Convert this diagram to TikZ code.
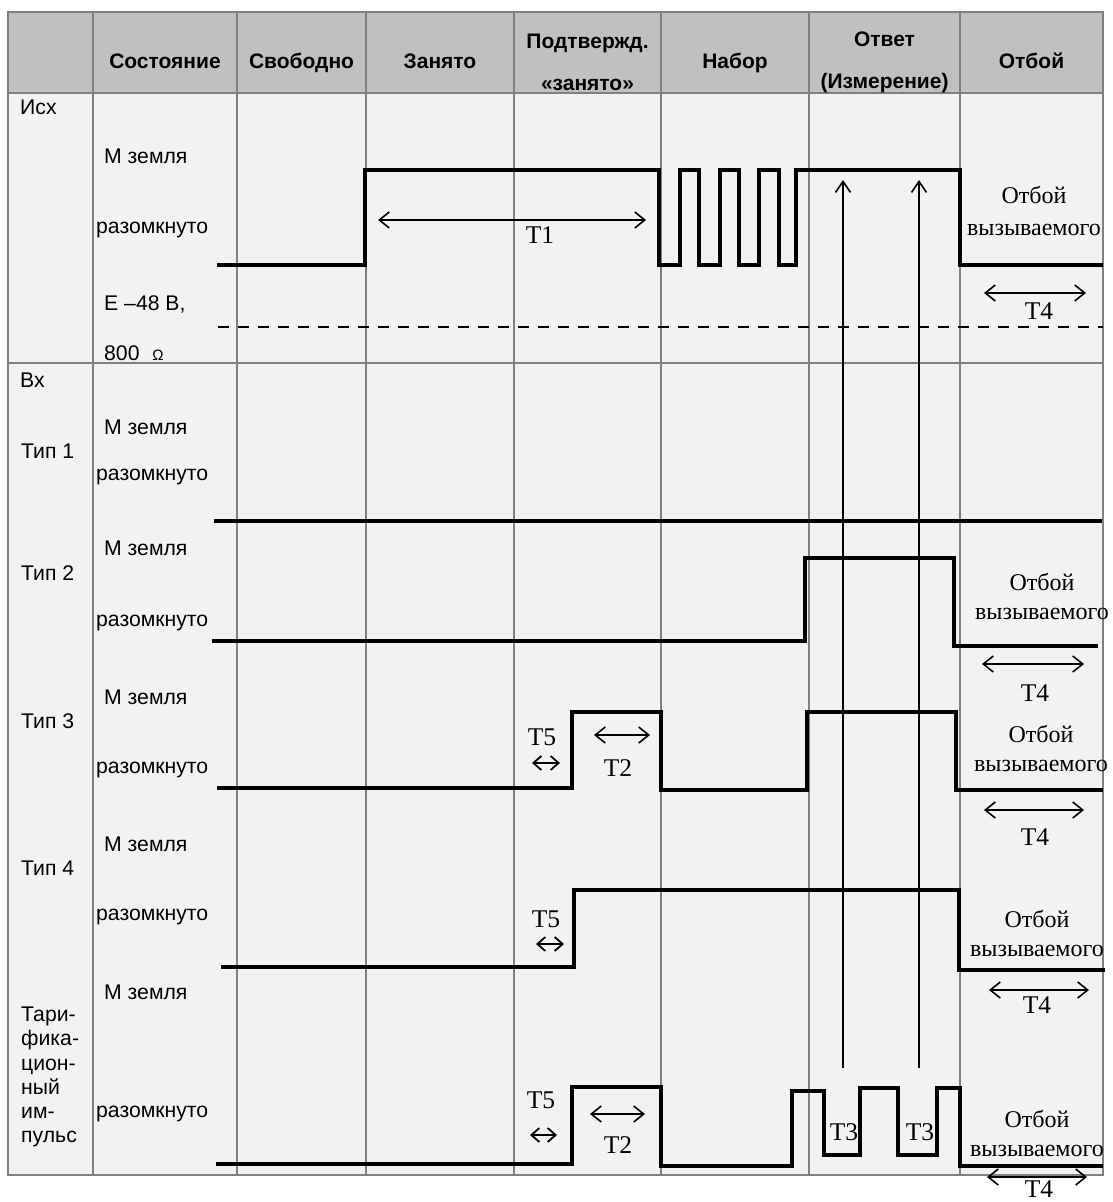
\documentclass[tikz,border=0pt]{standalone}
\usepackage{fontspec}
\setmainfont{Liberation Serif}
\newfontfamily\sansf{Liberation Sans}
\usetikzlibrary{arrows.meta}
\newcommand\lblfont{\sansf\fontsize{21.2}{24.2}\selectfont}
\newcommand\hdrfont{\sansf\bfseries\fontsize{21}{42}\selectfont}
\newcommand\serfont{\fontsize{24}{29}\selectfont}
\newcommand\tfont{\fontsize{25.5}{29}\selectfont}
\definecolor{hdrgray}{HTML}{C0C0C0}
\definecolor{bodygray}{HTML}{F2F2F2}
\definecolor{gridgray}{HTML}{808080}
\begin{document}
\begin{tikzpicture}[x=1pt,y=-1pt,
  gridline/.style={draw=gridgray,line width=2pt},
  sig/.style={line width=4pt,line join=miter,line cap=butt},
  dimarrow/.style={line width=1.6pt,{Straight Barb[length=10pt,width=16pt]}-{Straight Barb[length=10pt,width=16pt]}},
  tinyarrow/.style={line width=1.8pt,{Straight Barb[length=8pt,width=14pt]}-{Straight Barb[length=8pt,width=14pt]}},
  uparrow/.style={line width=1.6pt,-{Straight Barb[length=11pt,width=15pt]}},
  hdr/.style={font=\hdrfont,align=center,inner sep=0pt},
  hdrone/.style={font=\hdrfont,inner sep=0pt,anchor=base},
  lbl/.style={font=\lblfont,anchor=west,inner sep=0pt,align=left},
  tlbl/.style={font=\tfont,inner sep=0pt},
  otb/.style={font=\serfont,align=center,inner sep=0pt},
]
\useasboundingbox (0,0) rectangle (1112,1202);
% backgrounds
\fill[hdrgray] (8,12) rectangle (1103,93);
\fill[bodygray] (8,93) rectangle (1103,1175);
% grid
\foreach \gx in {93,237,366,514,661,809,960}
  \draw[gridline] (\gx,12) -- (\gx,1176);
\draw[gridline] (8,93) -- (1103,93);
\draw[gridline] (8,363) -- (1103,363);
\draw[gridline] (8,12) rectangle (1103,1175);

% header
\node[hdrone] (hS) at (165,68.5) {Состояние};
\node[hdrone] (hF) at (301.5,68.5) {Свободно};
\node[hdrone] (hZ) at (440,68.5) {Занято};
\node[hdr] (hP) at (587.5,62) {Подтвержд.\\«занято»};
\node[hdrone] (hN) at (735,68.5) {Набор};
\node[hdr] (hO) at (884.5,62) {Ответ\\(Измерение)};
\node[hdrone] (hB) at (1031.5,68.5) {Отбой};

% left labels
\node[lbl] (isx) at (20,107) {Исх};
\node[lbl] (m0) at (104,156) {М земля};
\node[lbl] (r0) at (96,230) {разомкнуто};
\node[lbl] (e48) at (104,304) {Е –48 В,};
\node[lbl] (ohm) at (104,353) {800\hspace{0.6em}{\fontsize{15}{15}\selectfont Ω}};
\node[lbl] (vx) at (20,380) {Вх};
\node[lbl] (t1) at (21,451) {Тип 1};
\node[lbl] (m1) at (104,427) {М земля};
\node[lbl] (r1) at (96,477) {разомкнуто};
\node[lbl] (t2) at (21,573) {Тип 2};
\node[lbl] (m2) at (104,548) {М земля};
\node[lbl] (r2) at (96,623) {разомкнуто};
\node[lbl] (t3) at (21,721) {Тип 3};
\node[lbl] (m3) at (104,697) {М земля};
\node[lbl] (r3) at (96,770) {разомкнуто};
\node[lbl] (t4) at (21,868) {Тип 4};
\node[lbl] (m4) at (104,844) {М земля};
\node[lbl] (r4) at (96,917) {разомкнуто};
\node[lbl] (t5) at (21,1077) {Тари-\\фика-\\цион-\\ный\\им-\\пульс};
\node[lbl] (m5) at (104,992) {М земля};
\node[lbl] (r5) at (96,1114) {разомкнуто};

% signals
\draw[sig] (217,265) -- (365,265) -- (365,170) -- (659,170) -- (659,265) -- (680,265) -- (680,170)
  -- (699,170) -- (699,265) -- (720,265) -- (720,170) -- (739,170) -- (739,265) -- (759,265)
  -- (759,170) -- (779,170) -- (779,265) -- (796,265) -- (796,170) -- (960,170) -- (960,265) -- (1103,265);
\draw[line width=2.5pt,dash pattern=on 11pt off 9pt] (218,327) -- (1103,327);
\draw[sig] (214,521) -- (1102,521);
\draw[sig] (212,641) -- (805,641) -- (805,558) -- (954,558) -- (954,646) -- (1098,646);
\draw[sig] (217,788) -- (572,788) -- (572,712) -- (661,712) -- (661,790) -- (807,790) -- (807,712)
  -- (956,712) -- (956,790) -- (1103,790);
\draw[sig] (221,967) -- (574,967) -- (574,890) -- (959,890) -- (959,970) -- (1105,970);
\draw[sig] (216,1164) -- (572,1164) -- (572,1087) -- (661,1087) -- (661,1166) -- (792,1166) -- (792,1091)
  -- (824,1091) -- (824,1155) -- (860,1155) -- (860,1088) -- (898,1088) -- (898,1155) -- (937,1155)
  -- (937,1088) -- (960,1088) -- (960,1166) -- (1103,1166);

% measurement arrows
\coordinate (a1b) at (843,1068); \coordinate (a1t) at (843,180);
\coordinate (a2b) at (919,1068); \coordinate (a2t) at (919,180);
\draw[uparrow] (a1b) -- (a1t);
\draw[uparrow] (a2b) -- (a2t);

% time intervals
\draw[dimarrow] (378,220) -- (646,220);
\node[tlbl] (T1) at (540,235) {T1};
\draw[dimarrow] (984,293) -- (1086,293);
\node[tlbl] (T4a) at (1039,311) {T4};
\draw[dimarrow] (982,664) -- (1084,664);
\node[tlbl] (T4b) at (1035,693) {T4};
\draw[dimarrow] (984,810) -- (1084,810);
\node[tlbl] (T4c) at (1035,837) {T4};
\draw[dimarrow] (989,990) -- (1089,990);
\node[tlbl] (T4d) at (1037,1005) {T4};
\draw[dimarrow] (987,1177) -- (1087,1177);
\node[tlbl] (T4e) at (1039,1189) {T4};
\draw[dimarrow] (594,735) -- (650,735);
\node[tlbl] (T2a) at (618,768) {T2};
\draw[dimarrow] (590,1114) -- (645,1114);
\node[tlbl] (T2b) at (618,1145) {T2};
\node[tlbl] (T5a) at (542,737) {T5};
\draw[tinyarrow] (532,763) -- (560,763);
\node[tlbl] (T5b) at (546,919) {T5};
\draw[tinyarrow] (536,944) -- (564,944);
\node[tlbl] (T5c) at (541,1100) {T5};
\draw[tinyarrow] (530,1135) -- (557,1135);
\node[tlbl] (T3a) at (844,1132) {T3};
\node[tlbl] (T3b) at (920,1132) {T3};

% release labels
\node[otb] (o0) at (1034,211) {Отбой\\[3pt]вызываемого};
\node[otb] (o2) at (1042,597) {Отбой\\вызываемого};
\node[otb] (o3) at (1041,749) {Отбой\\вызываемого};
\node[otb] (o4) at (1037,934) {Отбой\\вызываемого};
\node[otb] (o5) at (1037,1134) {Отбой\\вызываемого};
\end{tikzpicture}
\end{document}
